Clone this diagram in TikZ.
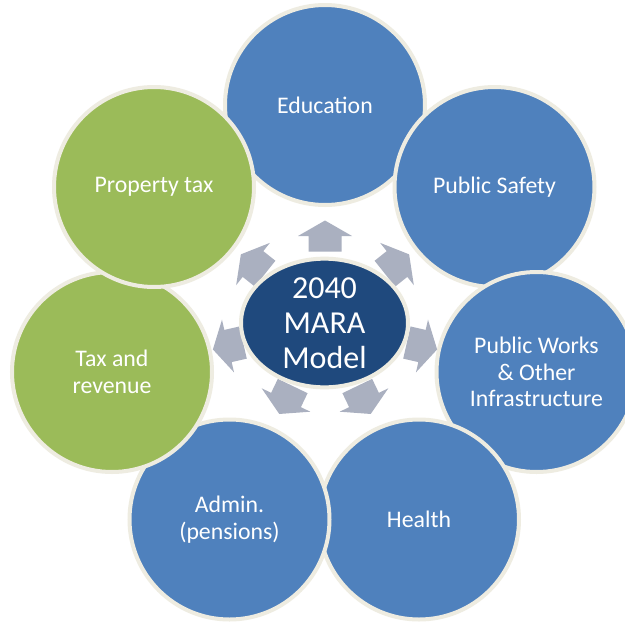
\documentclass[tikz,border=0pt]{standalone}
\usepackage{fontspec}
\setmainfont{Carlito}
\usetikzlibrary{shapes.geometric}
\definecolor{cblue}{HTML}{4F81BD}
\definecolor{cgreen}{HTML}{9BBB59}
\definecolor{cborder}{HTML}{EEECE1}
\definecolor{cdark}{HTML}{1F497D}
\definecolor{carrow}{HTML}{AAB0C0}
\begin{document}
\begin{tikzpicture}[x=1pt,y=-1pt,
  bubble/.style={circle, minimum size=200pt, inner sep=0pt, draw=cborder, line width=4pt,
    text=white, align=center, font=\fontsize{23.8}{26.5}\selectfont},
  bluebubble/.style={bubble, fill=cblue},
  greenbubble/.style={bubble, fill=cgreen},
  hub/.style={ellipse, minimum width=167pt, minimum height=116pt, inner sep=0pt,
    draw=cborder, line width=4pt, fill=cdark, text=white, align=center,
    font=\fontsize{32}{35}\selectfont},
  blockarrow/.style={fill=carrow}]
\useasboundingbox (0,0) rectangle (625,622);
\fill[white] (0,0) rectangle (625,622);
% circles, clockwise, later ones on top
\node[bluebubble] (edu) at (325,105) {Education};
\node[bluebubble] (safety) at (494.5,187) {Public Safety};
\node[bluebubble] (works) at (536.5,372) {Public Works\\\& Other\\Infrastructure};
\node[bluebubble] (health) at (419,519.5) {Health};
\node[bluebubble] (admin) at (229.5,519.5) {Admin.\\(pensions)};
\node[greenbubble] (taxrev) at (112,372) {Tax and\\revenue};
\node[greenbubble] (prop) at (154,187) {Property tax};
% arrows
\foreach \cx/\cy/\ang in {325/236/90, 397/264/38.57, 422/346/-12.86, 364/400/-64.29,
    286/400/-115.71, 228/346/-167.14, 253/264/141.43}{
  \fill[blockarrow, shift={(\cx,\cy)}, rotate=\ang]
    (15.5pt,0pt) -- (0pt,27pt) -- (0pt,16.5pt) -- (-15.5pt,16.5pt) -- (-15.5pt,-16.5pt)
    -- (0pt,-16.5pt) -- (0pt,-27pt) -- cycle;
}
% hub
\node[hub] (mara) at (324.5,323) {2040\\MARA\\Model};
\end{tikzpicture}
\end{document}
